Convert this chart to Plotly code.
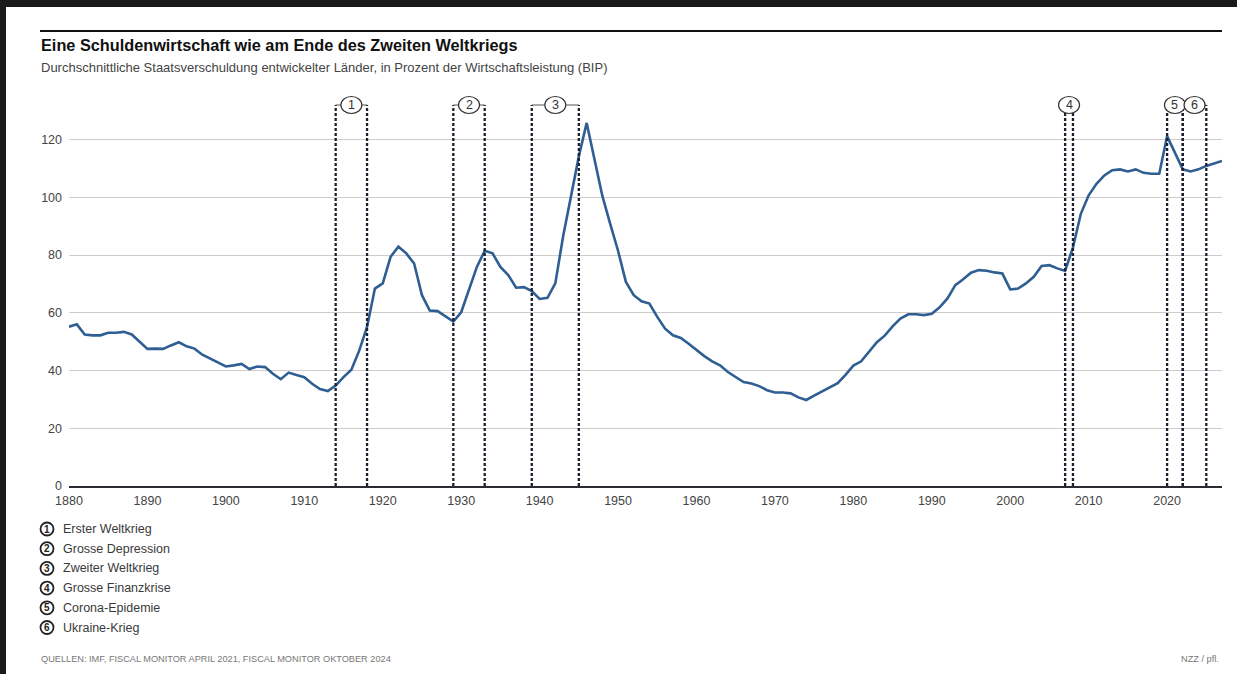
import plotly.graph_objects as go

years = list(range(1880, 2028))
debt = [
    55.2, 56.0, 52.5, 52.2, 52.2, 53.1, 53.1, 53.4, 52.5, 50.0,   # 1880-1889
    47.5, 47.6, 47.5, 48.7, 49.8, 48.4, 47.6, 45.5, 44.1, 42.8,   # 1890-1899
    41.4, 41.8, 42.3, 40.5, 41.4, 41.2, 38.9, 37.0, 39.3, 38.5,   # 1900-1909
    37.7, 35.4, 33.6, 32.9, 34.8, 37.7, 40.3, 46.9, 55.1, 68.4,   # 1910-1919
    70.2, 79.4, 82.9, 80.6, 77.1, 66.1, 60.8, 60.6, 58.8, 57.0,   # 1920-1929
    60.2, 67.8, 75.9, 81.5, 80.6, 75.9, 73.1, 68.7, 68.9, 67.5,   # 1930-1939
    64.8, 65.2, 70.2, 86.5, 100.4, 114.2, 125.8, 112.5, 100.5, 90.8,  # 1940-1949
    81.5, 70.7, 66.1, 64.0, 63.2, 58.6, 54.5, 52.2, 51.3, 49.3,   # 1950-1959
    47.0, 45.0, 43.2, 41.8, 39.5, 37.6, 36.0, 35.5, 34.6, 33.2,   # 1960-1969
    32.4, 32.4, 32.1, 30.7, 29.8, 31.3, 32.7, 34.2, 35.6, 38.5,   # 1970-1979
    41.7, 43.2, 46.6, 49.8, 52.1, 55.3, 58.0, 59.5, 59.5, 59.2,   # 1980-1989
    59.7, 61.9, 65.0, 69.6, 71.6, 73.9, 74.8, 74.6, 74.0, 73.6,   # 1990-1999
    68.1, 68.4, 70.2, 72.5, 76.2, 76.5, 75.4, 74.5, 82.7, 94.3,   # 2000-2009
    100.7, 104.7, 107.6, 109.4, 109.7, 109.0, 109.7, 108.5, 108.2, 108.2,  # 2010-2019
    121.2, 115.4, 109.7, 109.0, 109.7, 110.9, 111.8, 112.6,       # 2020-2027
]

y_ticks = [0, 20, 40, 60, 80, 100, 120]
x_ticks = list(range(1880, 2030, 10))

event_labels = ["1", "2", "3", "4", "5", "6"]
event_start = [1914, 1929, 1939, 2007, 2020, 2022]
event_end = [1918, 1933, 1945, 2008, 2022, 2025]
event_names = ["Erster Weltkrieg", "Grosse Depression", "Zweiter Weltkrieg",
               "Grosse Finanzkrise", "Corona-Epidemie", "Ukraine-Krieg"]

FONT = "Liberation Sans Narrow, Liberation Sans, Arial, sans-serif"
YMAX = 132

fig = go.Figure()
fig.add_trace(go.Scatter(
    x=years, y=debt, mode="lines",
    line=dict(color="#2f5e93", width=2.6),
    hoverinfo="skip", showlegend=False,
))

shapes = []
annotations = []

# brackets for events (vertical lines in data coords, top elements in paper y)
for lab, s, e in zip(event_labels, event_start, event_end):
    for xv in (s, e):
        shapes.append(dict(type="line", xref="x", yref="paper", x0=xv, x1=xv, y0=0, y1=1,
                           line=dict(color="#1b1f2e", width=2.3, dash="3px,2px"), layer="above"))
    shapes.append(dict(type="line", xref="x", yref="paper", x0=s, x1=e, y0=1, y1=1,
                       line=dict(color="#555555", width=1), layer="above"))
for lab, s, e in zip(event_labels, event_start, event_end):
    mid = (s + e) / 2
    shapes.append(dict(type="circle", xref="x", yref="paper", xsizemode="pixel", ysizemode="pixel",
                       xanchor=mid, yanchor=1, x0=-10.5, x1=10.5, y0=-8.5, y1=8.5,
                       fillcolor="white", line=dict(color="#333333", width=1.2), layer="above"))
    annotations.append(dict(x=mid, y=1, xref="x", yref="paper", text=lab, showarrow=False,
                            font=dict(family=FONT, size=12.5, color="#333333"),
                            xanchor="center", yanchor="middle"))

# legend entries below the chart (paper coords: plot spans px 69..1222, 105..486)
def px_to_paper_x(px):
    return (px - 69) / (1222 - 69)

def py_to_paper_y(py):
    return (486 - py) / (486 - 105)

for i, (lab, name) in enumerate(zip(event_labels, event_names)):
    py = 529 + i * 19.7
    shapes.append(dict(type="circle", xref="paper", yref="paper", xsizemode="pixel", ysizemode="pixel",
                       xanchor=px_to_paper_x(47), yanchor=py_to_paper_y(py), x0=-6.5, x1=6.5, y0=-6.5, y1=6.5,
                       fillcolor="white", line=dict(color="#222222", width=1.8)))
    annotations.append(dict(x=px_to_paper_x(47), y=py_to_paper_y(py), xref="paper", yref="paper",
                            text="<b>%s</b>" % lab, showarrow=False,
                            font=dict(family=FONT, size=10, color="#222222"),
                            xanchor="center", yanchor="middle"))
    annotations.append(dict(x=px_to_paper_x(61), y=py_to_paper_y(py), xref="paper", yref="paper",
                            text=name, showarrow=False,
                            font=dict(family=FONT, size=12.5, color="#3a3a3a"),
                            xanchor="left", yanchor="middle"))

# frame lines (top / left dark band) and title rule
shapes.append(dict(type="rect", xref="paper", yref="paper",
                   x0=px_to_paper_x(0), x1=px_to_paper_x(1237), y0=py_to_paper_y(7), y1=py_to_paper_y(0),
                   fillcolor="#1a1a1a", line=dict(width=0)))
shapes.append(dict(type="rect", xref="paper", yref="paper",
                   x0=px_to_paper_x(0), x1=px_to_paper_x(6), y0=py_to_paper_y(674), y1=py_to_paper_y(0),
                   fillcolor="#1a1a1a", line=dict(width=0)))
shapes.append(dict(type="line", xref="paper", yref="paper",
                   x0=px_to_paper_x(40), x1=px_to_paper_x(1222), y0=py_to_paper_y(31), y1=py_to_paper_y(31),
                   line=dict(color="#111111", width=2)))

# title, subtitle, footer
annotations.append(dict(x=px_to_paper_x(39), y=py_to_paper_y(45), xref="paper", yref="paper",
                        text="<b>Eine Schuldenwirtschaft wie am Ende des Zweiten Weltkriegs</b>",
                        showarrow=False, xanchor="left", yanchor="middle",
                        font=dict(family=FONT, size=16.3, color="#111111")))
annotations.append(dict(x=px_to_paper_x(39), y=py_to_paper_y(67), xref="paper", yref="paper",
                        text="Durchschnittliche Staatsverschuldung entwickelter Länder, in Prozent der Wirtschaftsleistung (BIP)",
                        showarrow=False, xanchor="left", yanchor="middle",
                        font=dict(family=FONT, size=13, color="#444444")))
annotations.append(dict(x=px_to_paper_x(39), y=py_to_paper_y(659), xref="paper", yref="paper",
                        text="QUELLEN: IMF, FISCAL MONITOR APRIL 2021, FISCAL MONITOR OKTOBER 2024",
                        showarrow=False, xanchor="left", yanchor="middle",
                        font=dict(family=FONT, size=9.2, color="#777777")))
annotations.append(dict(x=px_to_paper_x(1221), y=py_to_paper_y(659), xref="paper", yref="paper",
                        text="NZZ / pfl.",
                        showarrow=False, xanchor="right", yanchor="middle",
                        font=dict(family=FONT, size=9.2, color="#777777")))

fig.update_layout(
    width=1237, height=674,
    margin=dict(l=69, r=15, t=105, b=188),
    paper_bgcolor="white", plot_bgcolor="white",
    shapes=shapes, annotations=annotations,
    showlegend=False,
    font=dict(family=FONT, color="#444444"),
    xaxis=dict(range=[1880, 2027], tickmode="array", tickvals=x_ticks,
               ticktext=[str(t) for t in x_ticks], showgrid=False, zeroline=False,
               showline=True, linecolor="#2a2a33", linewidth=2, ticks="",
               tickfont=dict(family=FONT, size=12.5, color="#444444"), ticklabelstandoff=2),
    yaxis=dict(range=[0, YMAX], tickmode="array", tickvals=y_ticks,
               ticktext=[str(t) for t in y_ticks], showgrid=True, gridcolor="#d2cbcb",
               gridwidth=1, zeroline=False, showline=False, ticks="",
               tickfont=dict(family=FONT, size=12.5, color="#444444"), ticklabelstandoff=6),
)

fig.write_html("out.html")
